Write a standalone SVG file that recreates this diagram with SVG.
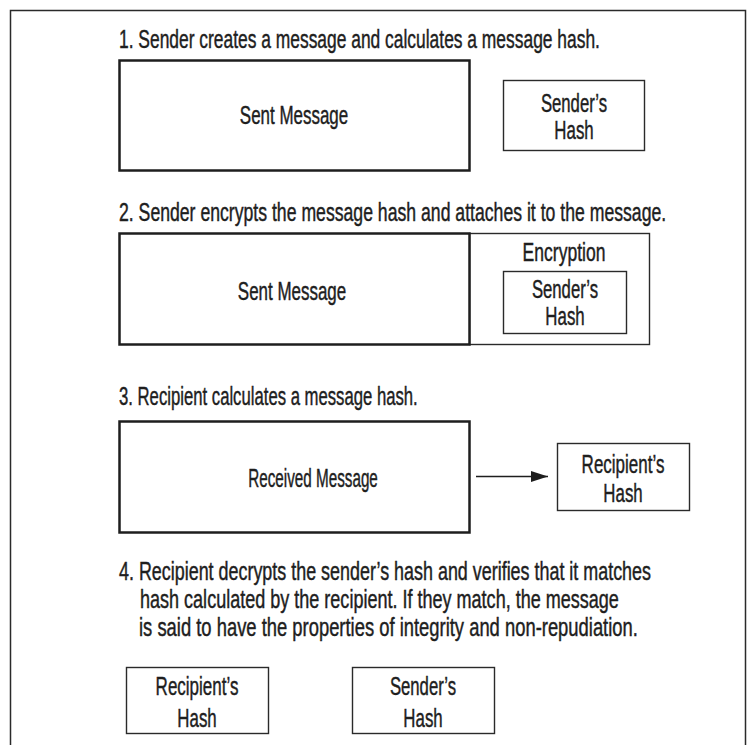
<svg xmlns="http://www.w3.org/2000/svg" width="752" height="745" viewBox="0 0 752 745">
  <defs>
    <marker id="arrowhead" markerWidth="17" markerHeight="11" refX="17" refY="5.5" orient="auto" markerUnits="userSpaceOnUse">
      <path d="M0,0 L17,5.5 L0,11 Z" fill="#1e1e1e"/>
    </marker>
  </defs>
  <style>
    /* condensed face: regular sans squeezed horizontally via scale(0.69,1) on each text */
    text { font-family: "Liberation Sans", Arial, sans-serif; font-size: 25px; fill: #1e1e1e; stroke: #1e1e1e; stroke-width: 0.45; }
    .label { text-anchor: middle; }
    .main { fill: #ffffff; stroke: #1e1e1e; stroke-width: 2.5; }
    .small { fill: #ffffff; stroke: #2a2a2a; stroke-width: 1.4; }
    .frame { fill: none; stroke: #2a2a2a; stroke-width: 1.5; }
    .conn { fill: none; stroke: #1e1e1e; stroke-width: 1.4; }
  </style>

  <rect width="752" height="745" fill="#ffffff"/>

  <!-- page frame: open at the bottom -->
  <path class="frame" d="M10.5,745 V10.5 H745.5 V745"/>

  <!-- step captions -->
  <g id="captions">
    <text transform="translate(119,48) scale(0.69,1)" textLength="697" lengthAdjust="spacingAndGlyphs">1. Sender creates a message and calculates a message hash.</text>
    <text transform="translate(119,221) scale(0.69,1)" textLength="793" lengthAdjust="spacingAndGlyphs">2. Sender encrypts the message hash and attaches it to the message.</text>
    <text transform="translate(119,405) scale(0.69,1)" textLength="433" lengthAdjust="spacingAndGlyphs">3. Recipient calculates a message hash.</text>
    <text transform="translate(119,580) scale(0.69,1)" textLength="771" lengthAdjust="spacingAndGlyphs">4. Recipient decrypts the sender’s hash and verifies that it matches</text>
    <text transform="translate(140,608) scale(0.69,1)" textLength="694" lengthAdjust="spacingAndGlyphs">hash calculated by the recipient. If they match, the message</text>
    <text transform="translate(139,636) scale(0.69,1)" textLength="723" lengthAdjust="spacingAndGlyphs">is said to have the properties of integrity and non-repudiation.</text>
  </g>

  <!-- step 1 -->
  <g id="sent-message-1">
    <rect class="main" x="119.5" y="60.5" width="350" height="110"/>
    <text class="label" transform="translate(294,124) scale(0.69,1)" textLength="157" lengthAdjust="spacingAndGlyphs">Sent Message</text>
  </g>
  <g id="senders-hash-1">
    <rect class="small" x="503.5" y="80.5" width="141" height="70"/>
    <text class="label" transform="translate(574,112) scale(0.69,1)" textLength="96" lengthAdjust="spacingAndGlyphs">Sender’s</text>
    <text class="label" transform="translate(574,139) scale(0.69,1)" textLength="57" lengthAdjust="spacingAndGlyphs">Hash</text>
  </g>

  <!-- step 2 -->
  <g id="encryption">
    <rect class="small" x="469.5" y="233.5" width="180" height="111"/>
    <text class="label" transform="translate(564,261) scale(0.69,1)" textLength="120" lengthAdjust="spacingAndGlyphs">Encryption</text>
  </g>
  <g id="sent-message-2">
    <rect class="main" x="119.5" y="233.5" width="350" height="111"/>
    <text class="label" transform="translate(292,300) scale(0.69,1)" textLength="157" lengthAdjust="spacingAndGlyphs">Sent Message</text>
  </g>
  <g id="senders-hash-2">
    <rect class="small" x="503.5" y="271.5" width="123" height="62"/>
    <text class="label" transform="translate(565,298) scale(0.69,1)" textLength="96" lengthAdjust="spacingAndGlyphs">Sender’s</text>
    <text class="label" transform="translate(565,325) scale(0.69,1)" textLength="57" lengthAdjust="spacingAndGlyphs">Hash</text>
  </g>

  <!-- step 3 -->
  <g id="received-message">
    <rect class="main" x="119.5" y="421.5" width="350" height="111"/>
    <text class="label" transform="translate(313,487) scale(0.69,1)" textLength="188" lengthAdjust="spacingAndGlyphs">Received Message</text>
  </g>
  <g id="recipients-hash-3">
    <rect class="small" x="557.5" y="443.5" width="132" height="67"/>
    <text class="label" transform="translate(623,473) scale(0.69,1)" textLength="120" lengthAdjust="spacingAndGlyphs">Recipient’s</text>
    <text class="label" transform="translate(623,502) scale(0.69,1)" textLength="57" lengthAdjust="spacingAndGlyphs">Hash</text>
  </g>

  <!-- step 4 -->
  <g id="recipients-hash-4">
    <rect class="small" x="126.5" y="667.5" width="142" height="66"/>
    <text class="label" transform="translate(197,695) scale(0.69,1)" textLength="120" lengthAdjust="spacingAndGlyphs">Recipient’s</text>
    <text class="label" transform="translate(197,727) scale(0.69,1)" textLength="57" lengthAdjust="spacingAndGlyphs">Hash</text>
  </g>
  <g id="senders-hash-4">
    <rect class="small" x="352.5" y="667.5" width="142" height="66"/>
    <text class="label" transform="translate(423,695) scale(0.69,1)" textLength="96" lengthAdjust="spacingAndGlyphs">Sender’s</text>
    <text class="label" transform="translate(423,727) scale(0.69,1)" textLength="57" lengthAdjust="spacingAndGlyphs">Hash</text>
  </g>

  <!-- connectors -->
  <g id="connectors">
    <line class="conn" x1="476" y1="476.5" x2="548" y2="476.5" marker-end="url(#arrowhead)"/>
  </g>
</svg>
